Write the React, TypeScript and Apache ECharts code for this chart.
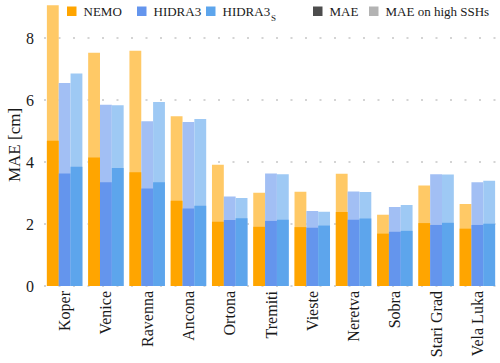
import React, { useEffect, useRef } from "react";
import * as echarts from "echarts";

const stations = ["Koper", "Venice", "Ravenna", "Ancona", "Ortona", "Tremiti", "Vieste", "Neretva", "Sobra", "Stari Grad", "Vela Luka"];

const nemoMAE = [4.69, 4.15, 3.67, 2.75, 2.07, 1.91, 1.90, 2.39, 1.69, 2.03, 1.85];
const nemoHigh = [9.06, 7.53, 7.59, 5.48, 3.91, 3.01, 3.04, 3.62, 2.30, 3.24, 2.65];
const hidraMAE = [3.63, 3.35, 3.15, 2.50, 2.13, 2.10, 1.88, 2.14, 1.75, 1.97, 1.97];
const hidraHigh = [6.55, 5.85, 5.32, 5.29, 2.89, 3.63, 2.42, 3.05, 2.55, 3.61, 3.35];
const hidraSMAE = [3.85, 3.81, 3.35, 2.59, 2.19, 2.14, 1.95, 2.18, 1.78, 2.04, 2.01];
const hidraSHigh = [6.86, 5.83, 5.94, 5.39, 2.84, 3.61, 2.40, 3.03, 2.61, 3.60, 3.40];

const yTicks = [0, 2, 4, 6, 8];

const FONT = "Liberation Serif, serif";
const C_NEMO = "#FFA500";
const C_NEMO_L = "#FFC966";
const C_H = "#6495ED";
const C_H_L = "#A2BFF4";
const C_HS = "#5DA5EC";
const C_HS_L = "#9EC9F4";
const TXT = "#1a1a1a";

export default function App() {
  const ref = useRef<HTMLDivElement>(null);
  useEffect(() => {
    if (!ref.current) return;
    const chart = echarts.init(ref.current, null, { renderer: "svg" });
    const barCommon = { barGap: "0%", barCategoryGap: "14%" };
    const legendItems = [
      { x: 67, color: C_NEMO, label: "NEMO" },
      { x: 137, color: C_H, label: "HIDRA3" },
      { x: 206, color: C_HS, label: "HIDRA3" },
      { x: 313, color: "#4D4D4D", label: "MAE" },
      { x: 369, color: "#B3B3B3", label: "MAE on high SSHs" },
    ];
    const graphic: any[] = [];
    legendItems.forEach((it) => {
      graphic.push({ type: "rect", shape: { x: it.x, y: 6.5, width: 9.5, height: 9.5 }, style: { fill: it.color }, z: 10 });
      graphic.push({
        type: "text",
        x: it.x + 16.5,
        y: 11.5,
        style: { text: it.label, fontFamily: FONT, fontSize: 13, fill: TXT, verticalAlign: "middle", align: "left" },
        z: 10,
      });
    });
    graphic.push({
      type: "text",
      x: 271,
      y: 17.5,
      style: { text: "S", fontFamily: FONT, fontSize: 9, fill: TXT, verticalAlign: "middle", align: "left" },
      z: 10,
    });
    chart.setOption({
      animation: false,
      textStyle: { fontFamily: FONT, fontSize: 16, color: TXT },
      grid: { left: 44, right: 2, top: 4, bottom: 77, containLabel: false, outerBoundsMode: "none" },
      graphic,
      xAxis: [
        {
          type: "category",
          data: stations,
          axisLine: { show: false },
          axisTick: { show: false },
          axisLabel: { rotate: 90, margin: 5, fontFamily: FONT, fontSize: 16, color: TXT },
        },
        {
          type: "category",
          data: stations,
          position: "bottom",
          show: false,
        },
      ],
      yAxis: {
        type: "value",
        min: yTicks[0],
        max: 9.1,
        interval: 2,
        name: "MAE [cm]",
        nameLocation: "middle",
        nameGap: 21,
        nameMoveOverlap: false,
        nameTextStyle: { fontFamily: FONT, fontSize: 17, color: TXT },
        axisLine: { show: false },
        axisTick: { show: false },
        axisLabel: { fontFamily: FONT, fontSize: 16, color: TXT, margin: 10, showMaxLabel: false },
        splitLine: {
          show: true,
          showMaxLine: false,
          lineStyle: { color: "#d4d4d4", width: 2, type: [2, 12.5] },
        },
      },
      series: [
        { name: "NEMO high", type: "bar", xAxisIndex: 1, data: nemoHigh, itemStyle: { color: C_NEMO_L }, ...barCommon },
        { name: "HIDRA3 high", type: "bar", xAxisIndex: 1, data: hidraHigh, itemStyle: { color: C_H_L }, ...barCommon },
        { name: "HIDRA3S high", type: "bar", xAxisIndex: 1, data: hidraSHigh, itemStyle: { color: C_HS_L }, ...barCommon },
        { name: "NEMO", type: "bar", xAxisIndex: 0, data: nemoMAE, itemStyle: { color: C_NEMO }, ...barCommon },
        { name: "HIDRA3", type: "bar", xAxisIndex: 0, data: hidraMAE, itemStyle: { color: C_H }, ...barCommon },
        { name: "HIDRA3S", type: "bar", xAxisIndex: 0, data: hidraSMAE, itemStyle: { color: C_HS }, ...barCommon },
      ],
    });
    return () => chart.dispose();
  }, []);
  return <div ref={ref} style={{ width: 500, height: 363, position: "absolute", left: 0, top: 0 }} />;
}
